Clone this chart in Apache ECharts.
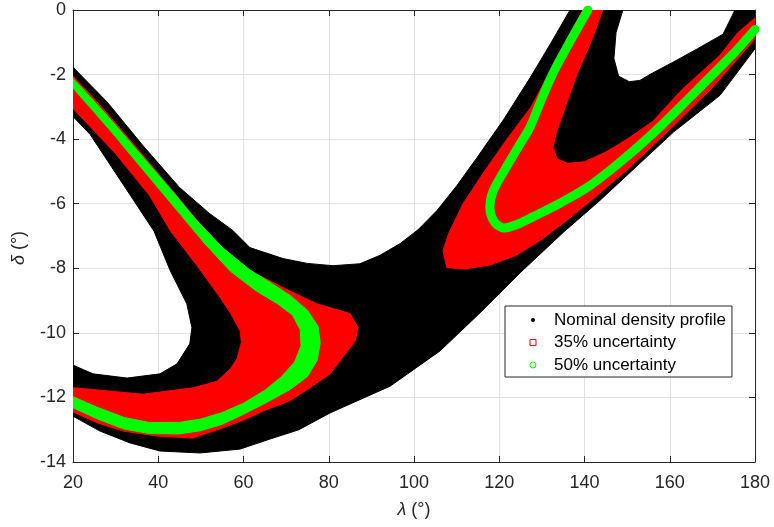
<!DOCTYPE html>
<html><head><meta charset="utf-8">
<script src="https://cdn.jsdelivr.net/npm/echarts@6/dist/echarts.min.js"></script>
<style>html,body{margin:0;padding:0;background:#fff}#c{width:774px;height:527px}</style>
</head><body><div id="c"></div>
<script>
// axis settings
const xMin = 20, xMax = 180, xStep = 20;
const yMin = -14, yMax = 0, yStep = 2;

// Nominal density profile: outline of the black marker region [lambda, delta]
const nominalRegion = [
  [20,-1.77],[28,-2.85],[36.4,-4.2],[45,-5.5],[52,-6.3],[57.5,-6.83],[61.5,-7.36],[69.3,-7.70],[75,-7.85],[81,-7.92],
  [87.3,-7.86],[92,-7.6],[96.7,-7.24],[101,-6.8],[105.4,-6.21],[110,-5.45],[114.8,-4.57],[121,-3.4],[127.2,-2.11],[132,-1.05],[136.6,0],
  [149,0],[147.4,-0.7],[146.9,-1.5],[148,-2.05],[150.5,-2.22],[153,-2.18],[156,-1.95],[161,-1.6],[166.5,-1.2],[172.5,-0.75],[175.3,0],
  [180,0],[180,-1.2],
  [171.8,-2.64],[160.8,-3.79],[143.6,-5.9],[135,-6.89],[124.9,-8.14],[115.5,-9.38],[106.1,-10.56],[94.4,-11.65],[80.3,-12.48],
  [73,-13.0],[66.2,-13.29],[59.2,-13.6],[49.8,-13.72],[40.4,-13.66],[33.4,-13.41],[26.3,-13.04],[20,-12.58],
  [20,-11.0],[24.7,-11.27],[32.7,-11.4],[40.4,-11.27],[44.4,-10.96],[47.4,-10.34],[47.9,-9.84],[46.7,-9.1],[42.8,-8.07],
  [39,-6.85],[34,-5.85],[29,-4.85],[24,-3.85],[20,-3.3]
];

// 35% uncertainty: outlines of the red marker regions
const unc35Left = [
  [20,-2.05],[25,-2.75],[30,-3.5],[38,-4.75],[44,-5.7],[49,-6.5],[55,-7.35],[61.5,-8.07],[69.3,-8.6],[77.2,-9.1],[85,-9.4],
  [86.9,-9.84],[86.2,-10.25],[83,-10.8],[80.3,-11.27],[75,-11.75],[70.9,-12.1],[65,-12.4],[60,-12.7],[55,-12.95],[48,-13.26],
  [40,-13.2],[32,-13.05],[26,-12.8],[20,-12.45],
  [20,-11.7],[36.4,-11.9],[48.2,-11.7],[53.8,-11.5],[57,-11.1],[58.5,-10.8],[59.5,-10.3],[59.2,-9.94],[57,-9.4],[54.5,-8.9],
  [49,-7.9],[42.8,-6.83],[38,-5.75],[30,-4.45],[25,-3.75],[20,-3.05]
];
const unc35Right = [
  [139.6,0],[135.5,-1],[131.5,-2],[127.5,-3],[121.8,-4],[116.5,-5],[111.5,-6],[108.2,-6.9],[106.8,-7.45],[107.7,-7.98],
  [112,-8.02],[117.8,-7.9],[124,-7.6],[130,-7.1],[136,-6.5],[142,-5.85],[150,-4.95],[160.8,-3.6],[170,-2.4],[180,-0.9],
  [180,-0.25],[176,-0.7],[171.8,-1.4],[163,-2.45],[156,-3.45],[150,-4.0],[145,-4.4],[140,-4.7],[136,-4.75],[133.5,-4.6],
  [132.6,-4.25],[133.4,-3.8],[135.5,-3.0],[138.2,-2.0],[141.5,-1.0],[144.3,0]
];

// 50% uncertainty: outline of the left green band, centre line of the right green band
const unc50Left = [
  [20,-2.12],[25,-2.83],[30,-3.57],[38,-4.8],[44,-5.72],[49,-6.52],[55,-7.35],[61.5,-8.05],[67,-8.5],[71,-8.85],[75,-9.3],
  [77.5,-9.8],[78,-10.3],[77.3,-10.85],[75,-11.35],[71,-11.75],[65.5,-12.15],[60,-12.52],[55,-12.83],[50,-13.03],[45,-13.13],
  [38,-13.12],[32,-12.98],[26,-12.68],[20,-12.32],
  [20,-11.98],[26,-12.32],[32,-12.62],[38,-12.78],[45,-12.77],[50,-12.67],[55,-12.47],[60,-12.18],[65,-11.78],[69,-11.35],
  [72,-10.9],[73.5,-10.4],[73.3,-9.9],[71.5,-9.45],[68,-9.1],[63,-8.7],[57,-8.1],[51,-7.25],[45,-6.3],[38,-5.2],[30,-3.93],
  [25,-3.17],[20,-2.42]
];
const unc50Right = [
  [140.8,0],[136.5,-1.0],[132.6,-1.96],[129.8,-2.8],[127.2,-3.63],[124.2,-4.3],[121.5,-4.9],[118.6,-5.6],[117.8,-6.1],
  [118.8,-6.55],[121,-6.75],[124,-6.65],[128,-6.4],[134,-6.0],[140.6,-5.5],[148,-4.75],[156,-3.83],[164,-2.8],[171.8,-1.77],
  [176,-1.2],[180,-0.6]
];

const legendNames = ['Nominal density profile', '35% uncertainty', '50% uncertainty'];
const FONT = 'Liberation Sans, Arial, Helvetica, sans-serif';

function polySeries(name, pts, color, z) {
  return {
    type: 'custom', name: name, coordinateSystem: 'cartesian2d', clip: true, silent: true, z: z,
    data: pts, encode: { x: 0, y: 1 },
    renderItem: function (params, api) {
      if (params.dataIndex !== 0) return null;
      return {
        type: 'polygon',
        shape: { points: pts.map(function (p) { return api.coord(p); }), smooth: 0 },
        style: { fill: color, stroke: color, lineWidth: 1 }
      };
    }
  };
}
function bandSeries(name, pts, color, width, z) {
  return {
    type: 'line', name: name, data: pts, showSymbol: false, symbol: 'none', smooth: 0.3, silent: true, z: z,
    clip: true, lineStyle: { color: color, width: width, cap: 'round', join: 'round' }
  };
}

const axisCommon = {
  axisLine: { show: true, onZero: false, lineStyle: { color: '#262626', width: 1 } },
  axisTick: { show: true, inside: true, length: 6, lineStyle: { color: '#262626' } }
};

const chart = echarts.init(document.getElementById('c'), null, { renderer: 'canvas' });
chart.setOption({
  backgroundColor: '#fff',
  animation: false,
  grid: { left: 73, right: 19, top: 10, bottom: 65 },
  xAxis: [
    Object.assign({
      type: 'value', min: xMin, max: xMax, interval: xStep, position: 'bottom',
      axisLabel: { margin: 12, color: '#262626', fontSize: 18, fontFamily: FONT },
      splitLine: { show: true, lineStyle: { color: '#e2e2e2', width: 1 } },
      name: '{i|λ} (°)', nameLocation: 'middle', nameGap: 39,
      nameTextStyle: { color: '#262626', fontSize: 18, fontFamily: FONT,
        rich: { i: { fontStyle: 'italic', fontSize: 18, fontFamily: FONT, color: '#262626' } } }
    }, axisCommon),
    Object.assign({
      type: 'value', min: xMin, max: xMax, interval: xStep, position: 'top',
      axisLabel: { show: false }, splitLine: { show: false }
    }, axisCommon)
  ],
  yAxis: [
    Object.assign({
      type: 'value', min: yMin, max: yMax, interval: yStep, position: 'left',
      axisLabel: { margin: 7, color: '#262626', fontSize: 18, fontFamily: FONT },
      splitLine: { show: true, lineStyle: { color: '#e2e2e2', width: 1 } },
      name: '{i|δ} (°)', nameLocation: 'middle', nameGap: 45, nameRotate: 90,
      nameTextStyle: { color: '#262626', fontSize: 18, fontFamily: FONT, padding: [0, 24, 0, 0],
        rich: { i: { fontStyle: 'italic', fontSize: 18, fontFamily: FONT, color: '#262626' } } }
    }, axisCommon),
    Object.assign({
      type: 'value', min: yMin, max: yMax, interval: yStep, position: 'right',
      axisLabel: { show: false }, splitLine: { show: false }
    }, axisCommon)
  ],
  legend: {
    orient: 'vertical', left: 505, top: 306,
    backgroundColor: '#fff', borderColor: '#262626', borderWidth: 1,
    padding: [5, 6, 3, 24], itemGap: 4.5, itemWidth: 6, itemHeight: 6,
    textStyle: { fontSize: 17, fontFamily: FONT, color: '#000', lineHeight: 18,
      rich: { g: { width: 13 } } },
    formatter: '{g| }{name}',
    data: [
      { name: legendNames[0], icon: 'circle', itemStyle: { color: '#000', borderColor: '#fff', borderWidth: 2 } },
      { name: legendNames[1], icon: 'rect', itemStyle: { color: '#fff', borderColor: '#ff0000', borderWidth: 1 } },
      { name: legendNames[2], icon: 'circle', itemStyle: { color: '#fff', borderColor: '#00ff00', borderWidth: 1 } }
    ]
  },
  series: [
    polySeries(legendNames[0], nominalRegion, '#000000', 2),
    polySeries(legendNames[1], unc35Left, '#ff0000', 3),
    polySeries(legendNames[1], unc35Right, '#ff0000', 3),
    polySeries(legendNames[2], unc50Left, '#00ff00', 4),
    bandSeries(legendNames[2], unc50Right, '#00ff00', 9, 4)
  ]
});
</script>
</body></html>
